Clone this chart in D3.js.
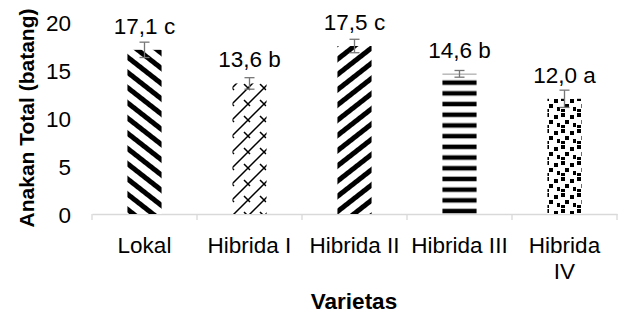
<!DOCTYPE html>
<html><head><meta charset="utf-8">
<script src="https://cdn.jsdelivr.net/npm/d3@7"></script>
<style>body{margin:0;background:#fff}svg{display:block}text{font-family:"Liberation Sans",Arial,sans-serif}</style>
</head><body><svg id="c" width="624" height="326"></svg>
<script>
const categories = ["Lokal","Hibrida I","Hibrida II","Hibrida III","Hibrida IV"];
const values = [17.1,13.6,17.5,14.6,12.0];
const errors = [0.8,0.6,0.7,0.35,0.9];
const letters = ["c","b","c","b","a"];
const yTicks = [0,5,10,15,20];
const patterns = ["diagDown","brick","diagUp","horiz","dots"];

const svg = d3.select("#c");
const m = {l:92,r:7,t:22,b:112};
const W = 624, H = 326;
const FS = 22.5;
const x = d3.scaleBand().domain(categories).range([m.l, W-m.r]).paddingInner(0.675).paddingOuter(0.3375);
const y = d3.scaleLinear().domain([0,20]).range([H-m.b, m.t]);

const defs = svg.append("defs");
function stripe(id, angle, period, w, dy){
  const p = defs.append("pattern").attr("id",id).attr("patternUnits","userSpaceOnUse")
    .attr("width",period).attr("height",period).attr("patternTransform",`rotate(${angle})`);
  p.append("rect").attr("width",period).attr("height",period).attr("fill","#fff");
  p.append("rect").attr("y",dy||0).attr("width",period).attr("height",w).attr("fill","#000");
}
stripe("diagDown",38,12,5);
stripe("diagUp",-38,12,5);
stripe("horiz",0,10.7,4.5,5.5);
{
  const p = defs.append("pattern").attr("id","brick").attr("patternUnits","userSpaceOnUse")
    .attr("width",16).attr("height",16);
  p.append("rect").attr("width",16).attr("height",16).attr("fill","#fff");
  p.append("path").attr("d","M0,16 L16,0 M-4,4 L4,-4 M12,20 L20,12 M4,4 L10,10")
    .attr("stroke","#000").attr("stroke-width",1.5).attr("fill","none");
}
{
  const p = defs.append("pattern").attr("id","dots").attr("patternUnits","userSpaceOnUse")
    .attr("width",16).attr("height",16);
  p.append("rect").attr("width",16).attr("height",16).attr("fill","#fff");
  const sq = [[1,1],[10,3],[5,8],[13,11],[1,13]];
  sq.forEach(s=>p.append("rect").attr("x",s[0]).attr("y",s[1]).attr("width",4).attr("height",4).attr("fill","#000"));
}

// axis line
const xAxis = d3.axisBottom(x).tickSize(0).tickFormat("");
const gx = svg.append("g").attr("transform",`translate(0,${y(0)})`).call(xAxis);
gx.select(".domain").attr("stroke","#d9d9d9").attr("stroke-width",1.3);
const bounds = d3.range(categories.length+1).map(i=>m.l + i*x.step());
gx.selectAll("line.b").data(bounds).join("line").attr("class","b")
  .attr("x1",d=>d).attr("x2",d=>d).attr("y1",0).attr("y2",6).attr("stroke","#d9d9d9").attr("stroke-width",1.3);

// y axis labels
const yAxis = d3.axisLeft(y).tickValues(yTicks).tickSize(0).tickPadding(0);
const gy = svg.append("g").attr("transform",`translate(71,0)`).call(yAxis);
gy.select(".domain").remove();
gy.selectAll("text").attr("font-size",FS).attr("fill","#000").attr("font-family","Liberation Sans, Arial").attr("dy","0.36em");

// bars
svg.selectAll("rect.bar").data(values).join("rect").attr("class","bar")
  .attr("x",(d,i)=>x(categories[i])).attr("width",x.bandwidth())
  .attr("y",d=>y(d)).attr("height",d=>y(0)-y(d))
  .attr("fill",(d,i)=>`url(#${patterns[i]})`);

// error bars
const eg = svg.append("g").attr("stroke","#767676").attr("stroke-width",1.3);
values.forEach((v,i)=>{
  const cx = x(categories[i]) + x.bandwidth()/2;
  eg.append("line").attr("x1",cx).attr("x2",cx).attr("y1",y(v+errors[i])).attr("y2",y(v-errors[i]));
  eg.append("line").attr("x1",cx-5).attr("x2",cx+5).attr("y1",y(v+errors[i])).attr("y2",y(v+errors[i]));
  eg.append("line").attr("x1",cx-5).attr("x2",cx+5).attr("y1",y(v-errors[i])).attr("y2",y(v-errors[i]));
});

// value labels
svg.selectAll("text.val").data(values).join("text").attr("class","val")
  .attr("x",(d,i)=>x(categories[i]) + x.bandwidth()/2)
  .attr("y",d=>y(d) - 16)
  .attr("text-anchor","middle").attr("font-size",FS).attr("fill","#000")
  .text((d,i)=>d.toFixed(1).replace(".",",")+" "+letters[i]);

// category labels
categories.forEach((c,i)=>{
  const cx = x(c) + x.bandwidth()/2;
  const lines = c==="Hibrida IV" ? ["Hibrida","IV"] : [c];
  const t = svg.append("text").attr("x",cx).attr("y",y(0)+39).attr("text-anchor","middle")
    .attr("font-size",FS).attr("fill","#000");
  lines.forEach((l,j)=>t.append("tspan").attr("x",cx).attr("dy",j?26:0).text(l));
});

svg.append("text").attr("x",354).attr("y",309).attr("text-anchor","middle")
  .attr("font-size",FS).attr("font-weight","bold").text("Varietas");
svg.append("text").attr("transform",`translate(34,${(y(0)+y(20))/2}) rotate(-90)`)
  .attr("text-anchor","middle").attr("font-size",21).attr("font-weight","bold").text("Anakan Total (batang)");
</script></body></html>
